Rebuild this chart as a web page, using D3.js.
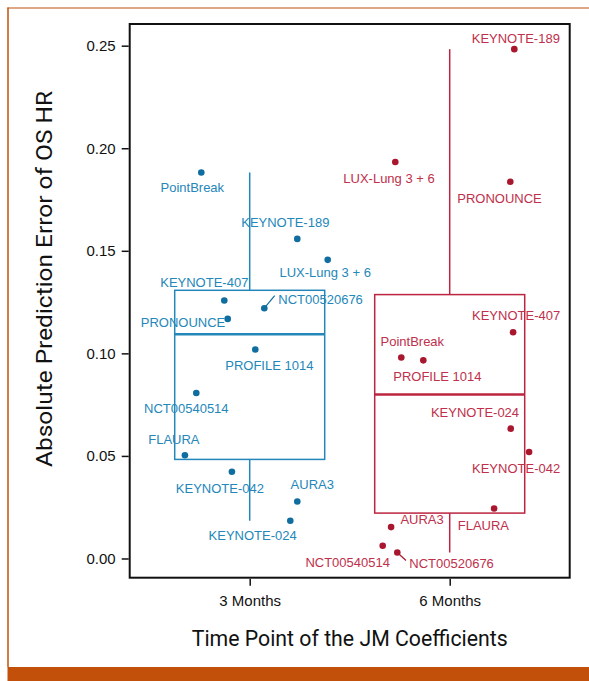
<!DOCTYPE html>
<html>
<head>
<meta charset="utf-8">
<script src="https://cdn.jsdelivr.net/npm/d3@7"></script>
<style>
  html, body { margin: 0; padding: 0; background: #fff; }
  svg { display: block; }
</style>
</head>
<body>
<svg id="chart" width="589" height="681"></svg>
<script>
// ---------------- data ----------------
const categories = ["3 Months", "6 Months"];
const trials = ["PointBreak", "KEYNOTE-189", "LUX-Lung 3 + 6", "KEYNOTE-407", "NCT00520676",
  "PRONOUNCE", "PROFILE 1014", "NCT00540514", "FLAURA", "KEYNOTE-042", "AURA3", "KEYNOTE-024"];
const error3Months = [0.1882, 0.1558, 0.1456, 0.1258, 0.1220, 0.1168, 0.1019, 0.0807, 0.0503, 0.0423, 0.0278, 0.0184];
const error6Months = [0.0980, 0.2483, 0.1933, 0.1103, 0.0029, 0.1837, 0.0966, 0.0062, 0.0244, 0.0519, 0.0153, 0.0633];
// horizontal jitter of each point, in category units
const jitter3Months = [-0.242, 0.238, 0.390, -0.127, 0.073, -0.110, 0.028, -0.267, -0.324, -0.089, 0.238, 0.203];
const jitter6Months = [-0.242, 0.323, -0.272, 0.317, -0.262, 0.303, -0.132, -0.335, 0.222, 0.397, -0.293, 0.305];
const yTicks = [0, 0.05, 0.10, 0.15, 0.20, 0.25];
const yTitle = "Absolute Prediction Error of OS HR";
const xTitle = "Time Point of the JM Coefficients";

// ---------------- layout (label placement, px) ----------------
const labelPos3 = [[-9, 20], [-12, -11.5], [-2.5, 17], [-20, -13], [14, -4, "start", 10.4, -12.7],
  [-44.7, 8.5], [14, 20.7], [-10, 20.5], [-11, -11], [-12, 21], [15, -12], [-37.6, 19]];
const labelPos6 = [[11, -11.5], [1.5, -6.3], [-6.3, 21], [3, -12], [12, 15, "start", 8.7, 8],
  [-10.8, 21.3], [14, 21], [-35, 21], [-10.7, 22], [-13, 21.3], [31, -2.7], [-35.7, -12]];

const colors = [
  { dot: "#0f6d9f", text: "#2487b9", line: "#2487b9" },
  { dot: "#a9172f", text: "#c02f4b", line: "#bb2540" }
];

const svg = d3.select("#chart");

// outer decoration
const orange = "#c2500a";
svg.append("line").attr("x1", 8).attr("x2", 8).attr("y1", 7.5).attr("y2", 667).attr("stroke", orange).attr("stroke-width", 1.5);
svg.append("line").attr("x1", 7.5).attr("x2", 589).attr("y1", 8).attr("y2", 8).attr("stroke", orange).attr("stroke-width", 1.2);
svg.append("rect").attr("x", 7.5).attr("y", 667).attr("width", 582).attr("height", 14).attr("fill", orange);

const panel = { left: 129.7, right: 569.7, top: 24, bottom: 577.7 };

const all = error3Months.concat(error6Months);
const ext = d3.extent(all);
const pad = (ext[1] - ext[0]) * 0.05;
const y = d3.scaleLinear().domain([ext[0] - pad, ext[1] + pad]).range([panel.bottom, panel.top]);
const x = d3.scaleLinear().domain([0.4, 2.6]).range([panel.left, panel.right]);
const catPos = d3.scaleOrdinal().domain(categories).range([1, 2]);

const groups = [
  { cat: categories[0], values: error3Months, jitter: jitter3Months, labels: labelPos3, col: colors[0] },
  { cat: categories[1], values: error6Months, jitter: jitter6Months, labels: labelPos6, col: colors[1] }
];

// boxes
groups.forEach(g => {
  const s = g.values.slice().sort(d3.ascending);
  const q1 = d3.quantile(s, 0.25), med = d3.quantile(s, 0.5), q3 = d3.quantile(s, 0.75);
  const iqr = q3 - q1;
  const lo = d3.min(s.filter(v => v >= q1 - 1.5 * iqr));
  const hi = d3.max(s.filter(v => v <= q3 + 1.5 * iqr));
  const c = catPos(g.cat);
  const gg = svg.append("g").attr("stroke", g.col.line).attr("fill", "none");
  gg.append("line").attr("x1", x(c)).attr("x2", x(c)).attr("y1", y(hi)).attr("y2", y(q3)).attr("stroke-width", 1.5);
  gg.append("line").attr("x1", x(c)).attr("x2", x(c)).attr("y1", y(q1)).attr("y2", y(lo)).attr("stroke-width", 1.5);
  gg.append("rect").attr("x", x(c - 0.375)).attr("y", y(q3))
    .attr("width", x(c + 0.375) - x(c - 0.375)).attr("height", y(q1) - y(q3)).attr("stroke-width", 1.5);
  gg.append("line").attr("x1", x(c - 0.375)).attr("x2", x(c + 0.375)).attr("y1", y(med)).attr("y2", y(med)).attr("stroke-width", 2.6);
});

// points + labels
groups.forEach(g => {
  const c = catPos(g.cat);
  g.values.forEach((v, i) => {
    const px = x(c + g.jitter[i]), py = y(v);
    const lp = g.labels[i];
    if (lp.length > 3) {
      svg.append("line").attr("x1", px).attr("y1", py).attr("x2", px + lp[3]).attr("y2", py + lp[4])
        .attr("stroke", g.col.dot).attr("stroke-width", 1.2);
    }
    svg.append("circle").attr("cx", px).attr("cy", py).attr("r", 3.3).attr("fill", g.col.dot);
    svg.append("text").attr("x", px + lp[0]).attr("y", py + lp[1])
      .attr("text-anchor", lp[2] || "middle")
      .attr("font-family", "'Liberation Sans', Arial, sans-serif").attr("font-size", 13)
      .attr("fill", g.col.text).text(trials[i]);
  });
});

// frame
svg.append("rect").attr("x", panel.left).attr("y", panel.top)
  .attr("width", panel.right - panel.left).attr("height", panel.bottom - panel.top)
  .attr("fill", "none").attr("stroke", "#111").attr("stroke-width", 2);

// axes
const yAxis = svg.append("g").attr("transform", `translate(${panel.left - 1},0)`)
  .call(d3.axisLeft(y).tickValues(yTicks).tickFormat(d3.format(".2f")).tickSize(7).tickPadding(6));
const xAxis = svg.append("g").attr("transform", `translate(0,${panel.bottom + 1})`)
  .call(d3.axisBottom(x).tickValues(categories.map(catPos)).tickFormat((d, i) => categories[i]).tickSize(7).tickPadding(10));
[yAxis, xAxis].forEach(a => {
  a.select(".domain").remove();
  a.selectAll(".tick line").attr("stroke", "#111").attr("stroke-width", 1.5);
  a.selectAll("text").attr("fill", "#111").attr("font-family", "'Liberation Sans', Arial, sans-serif").attr("font-size", 15);
});

// titles
svg.append("text").attr("x", (panel.left + panel.right) / 2).attr("y", 646)
  .attr("text-anchor", "middle").attr("font-family", "Roboto, 'Liberation Sans', sans-serif")
  .attr("font-size", 22).attr("fill", "#111")
  .attr("textLength", 316).attr("lengthAdjust", "spacingAndGlyphs").text(xTitle);
svg.append("text").attr("transform", `translate(52,279) rotate(-90)`)
  .attr("text-anchor", "middle").attr("font-family", "Roboto, 'Liberation Sans', sans-serif")
  .attr("font-size", 22).attr("fill", "#111")
  .attr("textLength", 376).attr("lengthAdjust", "spacingAndGlyphs").text(yTitle);
</script>
</body>
</html>
